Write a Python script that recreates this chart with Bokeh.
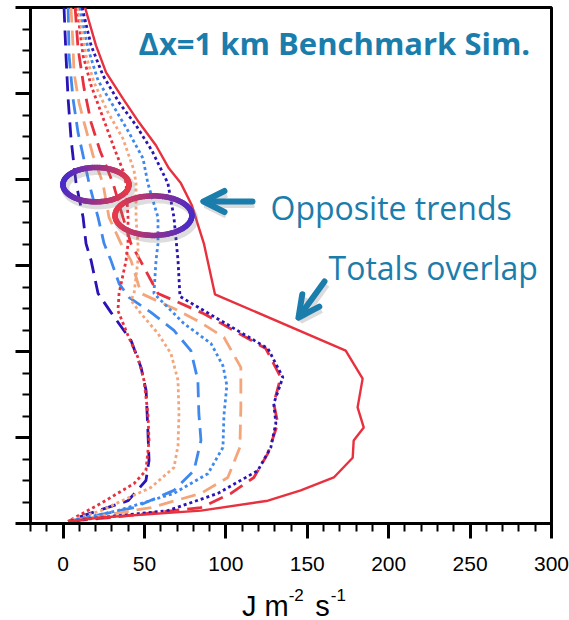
import numpy as np
from bokeh.plotting import figure
from bokeh.layouts import column
from bokeh.models import (Range1d, SingleIntervalTicker, CustomJSTickFormatter,
                          Label, Arrow, OpenHead)
from bokeh.embed import file_html
from bokeh.resources import INLINE

# ---------------- data (x: J m-2 s-1, y: height level) ----------------
total_y = [12.0, 11.12, 10.49, 9.88, 9.33, 8.79, 8.26, 7.91, 7.40, 6.51, 5.33, 4.02, 3.37,
           2.70, 2.23, 1.93, 1.53, 1.07, 0.77, 0.53, 0.30, 0.14, 0.05]
total_x = [13.5, 20.2, 26.4, 36.8, 46.6, 57.1, 65.0, 72.4, 79.1, 86.5, 93.3, 173.6, 184.0,
           180.9, 184.7, 178.5, 177.9, 166.3, 146.0, 125.8, 84.7, 23.3, 3.1]

navy_dot_y = [12.0, 11.12, 10.42, 9.79, 9.26, 8.67, 7.91, 7.12, 6.12, 5.28, 4.07, 3.40,
              2.79, 2.33, 1.77, 1.23, 0.70, 0.30, 0.14, 0.05]
navy_dot_x = [11.7, 17.2, 24.5, 34.4, 44.8, 54.6, 64.4, 68.1, 70.6, 71.8, 125.8, 135.0,
              129.4, 130.7, 127.6, 119.6, 95.1, 64.4, 23.3, 3.1]

red_dash_y = [12.0, 11.05, 10.12, 9.33, 8.67, 7.91, 7.12, 6.51, 6.0, 5.35, 4.88, 4.07,
              3.40, 2.79, 2.33, 1.63, 1.07, 0.70, 0.37, 0.14, 0.05]
red_dash_x = [7.4, 9.2, 12.9, 17.2, 22.7, 30.7, 36.8, 41.7, 49.1, 58.3, 86.5, 124.5,
              133.7, 129.4, 131.9, 125.8, 117.2, 103.1, 84.7, 29.4, 3.1]

navy_dash_y = [12.0, 10.88, 9.88, 8.95, 8.33, 7.91, 7.12, 6.51, 6.12, 5.35, 4.91, 4.26,
               3.63, 3.09, 2.16, 1.47, 1.0, 0.53, 0.19, 0.05]
navy_dash_x = [0.6, 1.8, 3.1, 4.9, 6.7, 8.0, 12.3, 14.1, 17.2, 21.5, 29.4, 41.7,
               47.9, 51.0, 52.1, 52.8, 50.9, 39.9, 12.9, 3.1]

red_dot_y = [12.0, 10.88, 10.19, 9.44, 8.74, 8.21, 7.91, 7.12, 6.51, 6.12, 5.35, 4.95,
             4.37, 3.86, 3.33, 2.56, 1.93, 1.23, 0.93, 0.47, 0.05]
red_dot_x = [8.6, 12.3, 17.2, 24.5, 31.3, 36.8, 38.7, 39.9, 39.9, 38.7, 34.4, 33.7,
             39.9, 46.0, 49.7, 52.1, 52.8, 50.9, 43.6, 23.3, 3.1]

orange_dot_y = [12.0, 10.88, 10.26, 9.56, 8.95, 8.21, 7.91, 7.12, 6.51, 6.12, 5.35, 5.19,
                4.88, 4.42, 3.95, 3.33, 2.56, 1.81, 1.30, 0.84, 0.30, 0.05]
orange_dot_x = [9.2, 14.1, 19.0, 27.6, 36.8, 43.6, 44.8, 44.8, 46.0, 46.0, 43.6, 41.7,
                47.9, 58.3, 66.3, 70.6, 71.2, 70.6, 68.1, 54.0, 23.3, 3.1]

orange_dash_y = [12.0, 11.12, 10.49, 9.79, 9.33, 8.56, 7.91, 7.12, 6.51, 6.12, 5.35, 5.0,
                 4.67, 4.33, 3.63, 2.70, 1.77, 1.07, 0.70, 0.37, 0.05]
orange_dash_x = [4.9, 6.1, 6.7, 9.8, 12.9, 18.4, 24.5, 28.2, 35.6, 41.7, 47.9, 68.1,
                 84.7, 98.8, 109.2, 109.2, 108.6, 101.2, 84.7, 54.0, 3.1]

lblue_dot_y = [12.0, 11.05, 10.30, 9.72, 9.09, 8.49, 7.91, 7.12, 6.51, 6.12, 5.35, 5.07,
               4.65, 4.19, 3.67, 3.21, 2.51, 1.77, 1.16, 0.70, 0.30, 0.05]
lblue_dot_x = [10.4, 15.3, 21.5, 30.7, 40.5, 49.1, 52.1, 58.3, 58.3, 57.1, 55.8, 63.2,
               74.2, 90.8, 98.2, 100.6, 98.8, 98.2, 89.0, 68.1, 33.7, 3.1]

lblue_dash_y = [12.0, 10.88, 9.88, 9.09, 8.56, 7.91, 7.12, 6.51, 6.12, 5.58, 5.26, 4.91,
                4.49, 4.02, 3.33, 2.56, 1.93, 1.23, 0.77, 0.37, 0.05]
lblue_dash_x = [3.1, 3.7, 6.1, 9.2, 12.3, 16.0, 21.5, 25.2, 29.4, 34.4, 40.5, 54.0,
                68.1, 78.5, 82.8, 83.4, 84.7, 80.4, 68.1, 43.6, 3.1]

RED = "#e8313f"
NAVY = "#2a14b5"
LBLUE = "#3f88ee"
ORANGE = "#f5a57a"
TEAL = "#1b7dab"

p = figure(width=569, height=580, output_backend="svg", toolbar_location=None,
           x_range=Range1d(-20, 300), y_range=Range1d(0, 12),
           min_border_left=30, min_border_right=18, min_border_top=7, min_border_bottom=57)
p.background_fill_color = "white"
p.border_fill_color = "white"
p.outline_line_color = "black"
p.outline_line_width = 3
p.xgrid.grid_line_color = None
p.ygrid.grid_line_color = None

p.xaxis.ticker = SingleIntervalTicker(interval=50, num_minor_ticks=5)
p.yaxis.ticker = SingleIntervalTicker(interval=2, num_minor_ticks=4)
p.yaxis.formatter = CustomJSTickFormatter(code="return ''")
for ax in (p.xaxis[0], p.yaxis[0]):
    ax.axis_line_width = 3
    ax.axis_line_color = "black"
    ax.major_tick_out = 15
    ax.major_tick_in = 0
    ax.minor_tick_out = 8
    ax.minor_tick_in = 0
    ax.major_tick_line_width = 3
    ax.minor_tick_line_width = 2
    ax.major_tick_line_color = "black"
    ax.minor_tick_line_color = "black"
p.yaxis.major_label_standoff = 0
p.xaxis.major_label_text_font = "Liberation Sans"
p.xaxis.major_label_text_font_size = "21px"
p.xaxis.major_label_text_color = "black"
p.xaxis.major_label_standoff = 18

DASH = "15 8"
DOT = "3 3"
LW = 2.8

# dashed series
p.line(navy_dash_x, navy_dash_y, line_color=NAVY, line_width=LW, line_dash=DASH)
p.line(lblue_dash_x, lblue_dash_y, line_color=LBLUE, line_width=LW, line_dash=DASH)
p.line(orange_dash_x, orange_dash_y, line_color=ORANGE, line_width=LW, line_dash=DASH)
p.line(red_dash_x, red_dash_y, line_color=RED, line_width=LW, line_dash=DASH)
# dotted series
p.line(red_dot_x, red_dot_y, line_color=RED, line_width=LW, line_dash=DOT)
p.line(orange_dot_x, orange_dot_y, line_color=ORANGE, line_width=LW, line_dash=DOT)
p.line(lblue_dot_x, lblue_dot_y, line_color=LBLUE, line_width=LW, line_dash=DOT)
p.line(navy_dot_x, navy_dot_y, line_color=NAVY, line_width=LW, line_dash=DOT)
# total
p.line(total_x, total_y, line_color=RED, line_width=2.4)


# gradient ellipses (annotation highlights)
def hexrgb(h):
    return tuple(int(h[i:i + 2], 16) for i in (1, 3, 5))


def mix(c1, c2, f):
    a, b = hexrgb(c1), hexrgb(c2)
    return "#%02x%02x%02x" % tuple(int(round(a[i] + (b[i] - a[i]) * f)) for i in range(3))


def gradient_ellipse(cx, cy, ax_, ay_, left_col, right_col, n=90):
    t = np.linspace(0, 2 * np.pi, n + 1)
    ex = cx + ax_ * np.cos(t)
    ey = cy + ay_ * np.sin(t)
    p.line(ex + 1.5, ey - 0.08, line_color="#777777", line_alpha=0.25, line_width=8)
    xs, ys, cols = [], [], []
    for i in range(n):
        xs.append([ex[i], ex[i + 1]])
        ys.append([ey[i], ey[i + 1]])
        f = (np.cos((t[i] + t[i + 1]) / 2) + 1) / 2
        cols.append(mix(left_col, right_col, f))
    p.multi_line(xs, ys, line_color=cols, line_width=5.5, line_cap="round")


PURPLE = "#4a2bc8"
ERED = "#e63a4a"
gradient_ellipse(20.2, 7.88, 20.3, 0.40, PURPLE, ERED)
gradient_ellipse(55.5, 7.16, 23.6, 0.46, ERED, PURPLE)

# arrows (screen units relative to plot frame)
for (xs0, ys0, xe0, ye0) in [(222, 322, 173, 322), (294, 242, 268, 206)]:
    p.add_layout(Arrow(x_start=xs0 + 2, y_start=ys0 - 3, x_end=xe0 + 2, y_end=ye0 - 3,
                       start_units="screen", end_units="screen",
                       line_color="#888888", line_alpha=0.3, line_width=7,
                       end=OpenHead(size=21, line_width=7, line_color="#888888", line_alpha=0.3)))
    p.add_layout(Arrow(x_start=xs0, y_start=ys0, x_end=xe0, y_end=ye0,
                       start_units="screen", end_units="screen",
                       line_color=TEAL, line_width=6, line_cap="round",
                       end=OpenHead(size=21, line_width=6, line_color=TEAL,
                                    line_cap="round", line_join="round")))

# texts
p.add_layout(Label(x=108, y=481, x_units="screen", y_units="screen",
                   text="Δx=1 km Benchmark Sim.", text_font="Open Sans",
                   text_font_style="bold", text_font_size="31px", text_color=TEAL,
                   text_baseline="alphabetic"))
p.add_layout(Label(x=240, y=316, x_units="screen", y_units="screen",
                   text="Opposite trends", text_font="Open Sans",
                   text_font_size="32px", text_color=TEAL, text_baseline="alphabetic"))
p.add_layout(Label(x=298, y=256, x_units="screen", y_units="screen",
                   text="Totals overlap", text_font="Open Sans",
                   text_font_size="32px", text_color=TEAL, text_baseline="alphabetic"))

# x-axis title with superscripts, in a strip below the plot
q = figure(width=569, height=40, output_backend="svg", toolbar_location=None,
           x_range=Range1d(0, 569), y_range=Range1d(0, 40),
           x_axis_type=None, y_axis_type=None,
           min_border_left=0, min_border_right=0, min_border_top=0, min_border_bottom=0)
q.outline_line_color = None
q.xgrid.grid_line_color = None
q.ygrid.grid_line_color = None
for (tx, ty, tt, fs) in [(231, 15, "J m", "29px"), (282, 26, "-2", "17px"),
                         (311, 15, "s", "29px"), (328, 26, "-1", "17px")]:
    q.add_layout(Label(x=tx, y=ty, text=tt, text_font="Liberation Sans",
                       text_font_size=fs, text_color="black",
                       text_baseline="alphabetic"))

layout = column(p, q, spacing=0)
open("out.html", "w").write(file_html(layout, INLINE))
